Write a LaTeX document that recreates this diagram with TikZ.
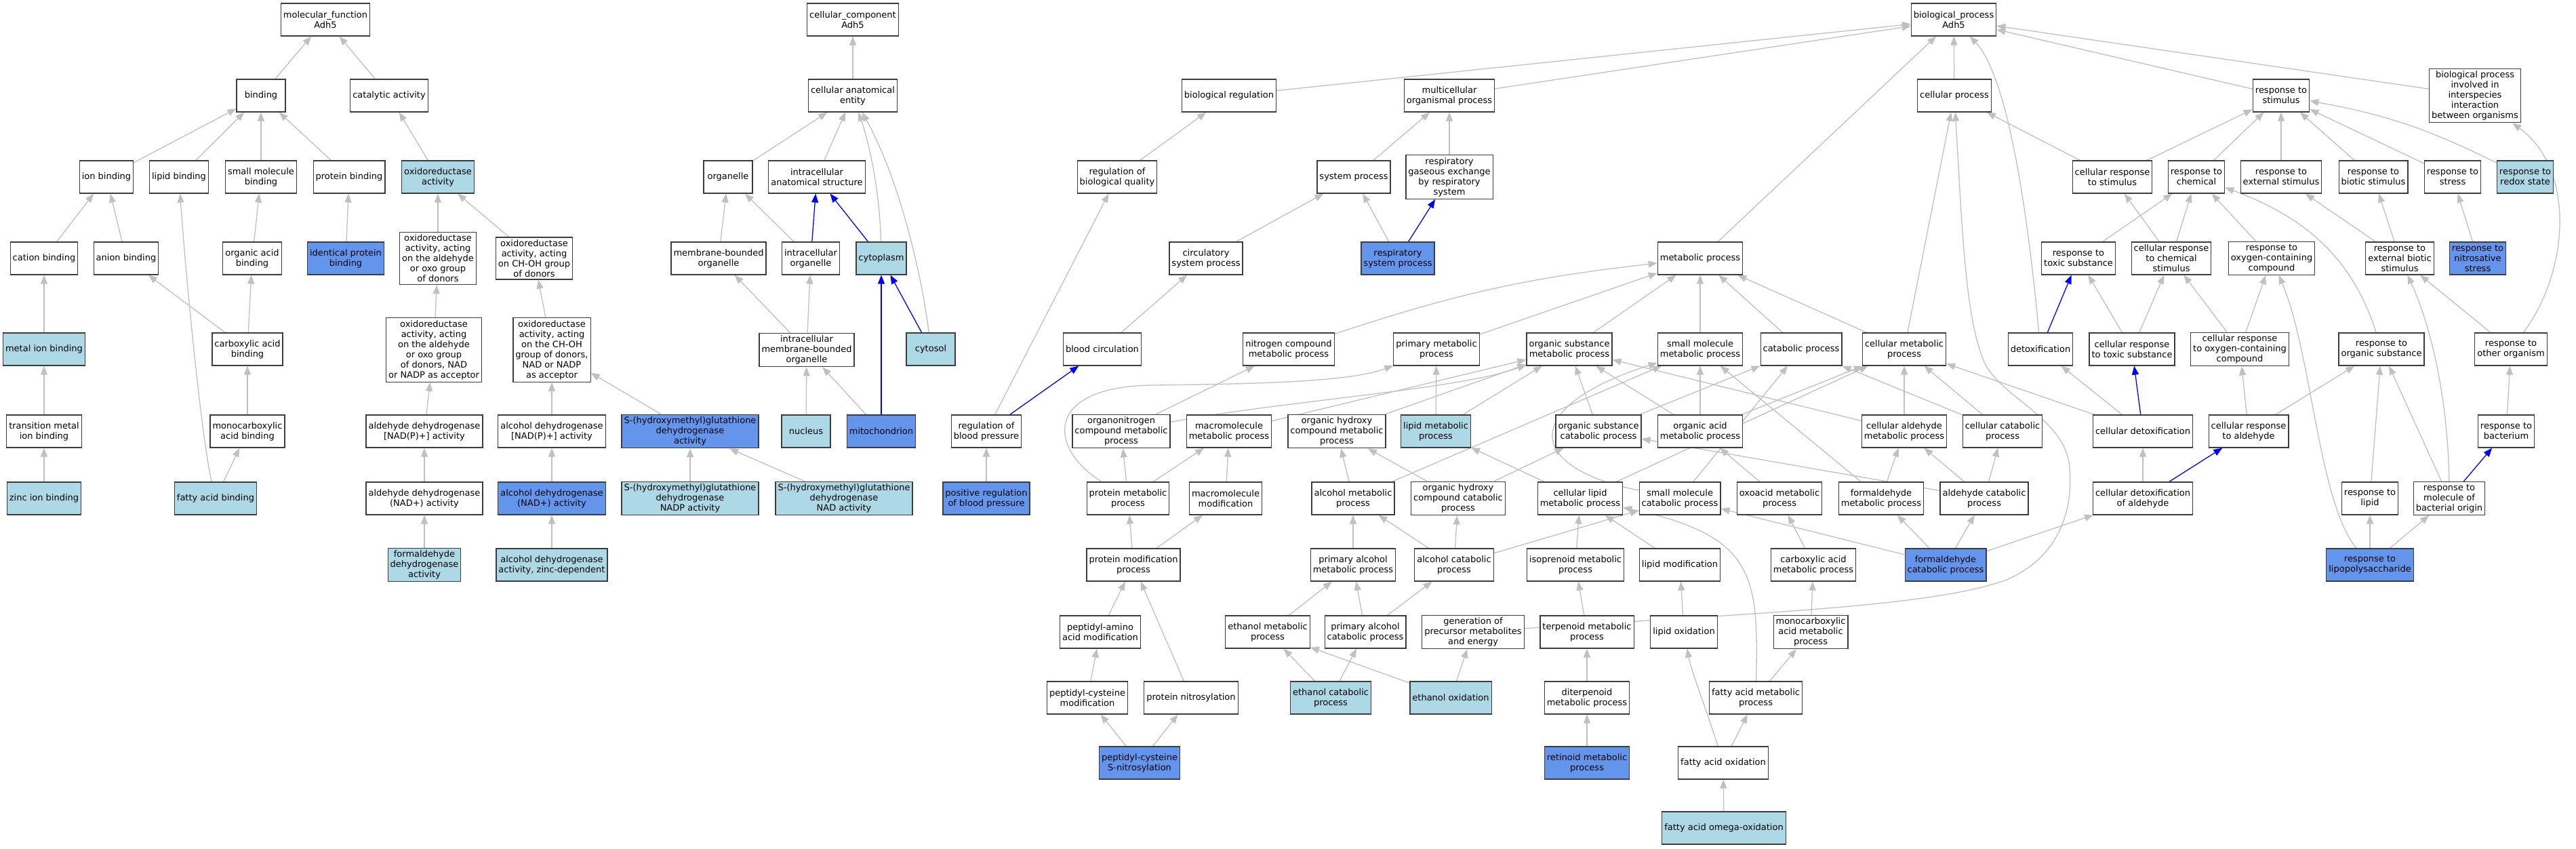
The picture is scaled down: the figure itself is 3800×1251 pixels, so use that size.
\documentclass[tikz,border=0pt]{standalone}
\usepackage{fontspec}
\setmainfont{DejaVu Sans}
\usetikzlibrary{arrows.meta}
\definecolor{edgegray}{RGB}{192,192,192}
\definecolor{boxline}{RGB}{60,60,60}
\definecolor{hitblue}{RGB}{173,216,230}
\definecolor{directblue}{RGB}{100,149,237}
\pgfdeclarelayer{background}
\pgfsetlayers{background,main}
\tikzset{
	term/.style={draw=boxline, line width=1.2pt, fill=white, align=center,
		minimum width=72pt, minimum height=48pt, inner xsep=3.5pt, inner ysep=3.5pt,
		font=\fontsize{13}{15}\selectfont},
	hit/.style={term, fill=hitblue},       % light blue terms
	direct/.style={term, fill=directblue}, % darker blue terms
	isa/.style={draw=edgegray, line width=1.3pt, -{Triangle[length=13pt,width=10pt]}},
	partof/.style={draw=blue, line width=1.3pt, -{Triangle[length=13pt,width=10pt]}},
}

\begin{document}
\begin{tikzpicture}[x=1pt, y=-1pt]
	\useasboundingbox (0,0) rectangle (3800,1251);

	% molecular function
	\node[term] (mf) at (480,29) {molecular\_function\\Adh5};
	\node[term] (binding) at (385,141) {binding};
	\node[term] (catalytic) at (574,141) {catalytic activity};
	\node[term] (ionbind) at (157,261) {ion binding};
	\node[term] (lipidbind) at (264,261) {lipid binding};
	\node[term] (smbind) at (385,261) {small molecule\\binding};
	\node[term] (protbind) at (515,261) {protein binding};
	\node[hit] (oxred) at (646,261) {oxidoreductase\\activity};
	\node[term] (cationbind) at (65,381) {cation binding};
	\node[term] (anionbind) at (186,381) {anion binding};
	\node[term] (orgacidbind) at (372,381) {organic acid\\binding};
	\node[direct] (identprot) at (510,381) {identical protein\\binding};
	\node[term] (oxald) at (646,381) {oxidoreductase\\activity, acting\\on the aldehyde\\or oxo group\\of donors};
	\node[term] (oxchoh) at (788,381) {oxidoreductase\\activity, acting\\on CH-OH group\\of donors};
	\node[hit] (metalbind) at (65,515) {metal ion binding};
	\node[term] (carbbind) at (365,515) {carboxylic acid\\binding};
	\node[term] (oxaldnad) at (640,516) {oxidoreductase\\activity, acting\\on the aldehyde\\or oxo group\\of donors, NAD\\or NADP as acceptor};
	\node[term] (oxchohnad) at (814,516) {oxidoreductase\\activity, acting\\on the CH-OH\\group of donors,\\NAD or NADP\\as acceptor};
	\node[term] (transbind) at (65,636) {transition metal\\ion binding};
	\node[term] (monocarbbind) at (365,636) {monocarboxylic\\acid binding};
	\node[term] (aldhnadp) at (626,636) {aldehyde dehydrogenase\\{[NAD(P)+]} activity};
	\node[term] (adhnadp) at (814,636) {alcohol dehydrogenase\\{[NAD(P)+]} activity};
	\node[direct] (hmgsh) at (1018,636) {S-(hydroxymethyl)glutathione\\dehydrogenase\\activity};
	\node[hit] (zincbind) at (65,735) {zinc ion binding};
	\node[hit] (fabind) at (318,735) {fatty acid binding};
	\node[term] (aldhnad) at (626,735) {aldehyde dehydrogenase\\(NAD+) activity};
	\node[direct] (adhnad) at (814,735) {alcohol dehydrogenase\\(NAD+) activity};
	\node[hit] (hmgshnadp) at (1018,735) {S-(hydroxymethyl)glutathione\\dehydrogenase\\NADP activity};
	\node[hit] (hmgshnad) at (1245,735) {S-(hydroxymethyl)glutathione\\dehydrogenase\\NAD activity};
	\node[hit] (fdhact) at (626,833) {formaldehyde\\dehydrogenase\\activity};
	\node[hit] (adhzinc) at (814,833) {alcohol dehydrogenase\\activity, zinc-dependent};

	% cellular component
	\node[term] (cc) at (1258,29) {cellular\_component\\Adh5};
	\node[term] (cae) at (1258,141) {cellular anatomical\\entity};
	\node[term] (organelle) at (1074,261) {organelle};
	\node[term] (ias) at (1205,261) {intracellular\\anatomical structure};
	\node[term] (mbo) at (1060,381) {membrane-bounded\\organelle};
	\node[term] (io) at (1196,381) {intracellular\\organelle};
	\node[hit] (cytoplasm) at (1300,381) {cytoplasm};
	\node[term] (imbo) at (1190,516) {intracellular\\membrane-bounded\\organelle};
	\node[hit] (cytosol) at (1373,515) {cytosol};
	\node[hit] (nucleus) at (1189,636) {nucleus};
	\node[direct] (mito) at (1300,636) {mitochondrion};

	% biological process
	\node[term] (bp) at (2882,29) {biological\_process\\Adh5};
	\node[term] (bioreg) at (1813,141) {biological regulation};
	\node[term] (multi) at (2138,141) {multicellular\\organismal process};
	\node[term] (cellproc) at (2883,141) {cellular process};
	\node[term] (stim) at (3365,141) {response to\\stimulus};
	\node[term] (inter) at (3651,141) {biological process\\involved in\\interspecies\\interaction\\between organisms};
	\node[term] (regqual) at (1648,261) {regulation of\\biological quality};
	\node[term] (sysproc) at (1997,261) {system process};
	\node[term] (gasex) at (2138,261) {respiratory\\gaseous exchange\\by respiratory\\system};
	\node[term] (crstim) at (3116,261) {cellular response\\to stimulus};
	\node[term] (rchem) at (3240,261) {response to\\chemical};
	\node[term] (rext) at (3365,261) {response to\\external stimulus};
	\node[term] (rbio) at (3501,261) {response to\\biotic stimulus};
	\node[term] (rstress) at (3618,261) {response to\\stress};
	\node[hit] (rredox) at (3725,261) {response to\\redox state};
	\node[term] (circ) at (1779,381) {circulatory\\system process};
	\node[direct] (respsys) at (2062,381) {respiratory\\system process};
	\node[term] (metab) at (2508,381) {metabolic process};
	\node[term] (rtox) at (3066,381) {response to\\toxic substance};
	\node[term] (crchem) at (3203,381) {cellular response\\to chemical\\stimulus};
	\node[term] (roxy) at (3351,381) {response to\\oxygen-containing\\compound};
	\node[term] (rextbio) at (3540,381) {response to\\external biotic\\stimulus};
	\node[direct] (rnitro) at (3655,381) {response to\\nitrosative\\stress};
	\node[term] (bloodcirc) at (1626,515) {blood circulation};
	\node[term] (nitro) at (1901,515) {nitrogen compound\\metabolic process};
	\node[term] (primmet) at (2119,515) {primary metabolic\\process};
	\node[term] (osmet) at (2315,515) {organic substance\\metabolic process};
	\node[term] (smmet) at (2508,515) {small molecule\\metabolic process};
	\node[term] (catab) at (2657,515) {catabolic process};
	\node[term] (cellmet) at (2809,515) {cellular metabolic\\process};
	\node[term] (detox) at (3010,515) {detoxification};
	\node[term] (crtox) at (3145,515) {cellular response\\to toxic substance};
	\node[term] (croxy) at (3304,515) {cellular response\\to oxygen-containing\\compound};
	\node[term] (rorg) at (3513,515) {response to\\organic substance};
	\node[term] (rother) at (3704,515) {response to\\other organism};
	\node[term] (regbp) at (1455,636) {regulation of\\blood pressure};
	\node[term] (orgnitro) at (1654,636) {organonitrogen\\compound metabolic\\process};
	\node[term] (macromet) at (1813,636) {macromolecule\\metabolic process};
	\node[term] (ohcmet) at (1972,636) {organic hydroxy\\compound metabolic\\process};
	\node[hit] (lipidmet) at (2118,636) {lipid metabolic\\process};
	\node[term] (oscat) at (2358,636) {organic substance\\catabolic process};
	\node[term] (oamet) at (2508,636) {organic acid\\metabolic process};
	\node[term] (caldmet) at (2809,636) {cellular aldehyde\\metabolic process};
	\node[term] (cellcat) at (2954,636) {cellular catabolic\\process};
	\node[term] (celldetox) at (3161,636) {cellular detoxification};
	\node[term] (cracald) at (3317,636) {cellular response\\to aldehyde};
	\node[term] (rbact) at (3697,636) {response to\\bacterium};
	\node[direct] (posregbp) at (1455,735) {positive regulation\\of blood pressure};
	\node[term] (protmet) at (1664,735) {protein metabolic\\process};
	\node[term] (macromod) at (1808,735) {macromolecule\\modification};
	\node[term] (alcmet) at (1996,735) {alcohol metabolic\\process};
	\node[term] (ohccat) at (2151,735) {organic hydroxy\\compound catabolic\\process};
	\node[term] (clipmet) at (2331,735) {cellular lipid\\metabolic process};
	\node[term] (smcat) at (2478,735) {small molecule\\catabolic process};
	\node[term] (oxoacid) at (2625,735) {oxoacid metabolic\\process};
	\node[term] (formmet) at (2775,735) {formaldehyde\\metabolic process};
	\node[term] (aldcat) at (2927,735) {aldehyde catabolic\\process};
	\node[term] (celldetoxald) at (3161,735) {cellular detoxification\\of aldehyde};
	\node[term] (rlipid) at (3496,735) {response to\\lipid};
	\node[term] (rmbo) at (3613,735) {response to\\molecule of\\bacterial origin};
	\node[term] (protmod) at (1672,833) {protein modification\\process};
	\node[term] (primalcmet) at (1996,833) {primary alcohol\\metabolic process};
	\node[term] (alccat) at (2145,833) {alcohol catabolic\\process};
	\node[term] (isoprenoid) at (2324,833) {isoprenoid metabolic\\process};
	\node[term] (lipidmod) at (2478,833) {lipid modification};
	\node[term] (carbmet) at (2675,833) {carboxylic acid\\metabolic process};
	\node[direct] (formcat) at (2870,833) {formaldehyde\\catabolic process};
	\node[direct] (rlps) at (3496,833) {response to\\lipopolysaccharide};
	\node[term] (peptaa) at (1623,932) {peptidyl-amino\\acid modification};
	\node[term] (ethmet) at (1870,932) {ethanol metabolic\\process};
	\node[term] (primalccat) at (2014,932) {primary alcohol\\catabolic process};
	\node[term] (genprec) at (2173,932) {generation of\\precursor metabolites\\and energy};
	\node[term] (terpenoid) at (2341,932) {terpenoid metabolic\\process};
	\node[term] (lipidox) at (2484,932) {lipid oxidation};
	\node[term] (monocarbmet) at (2671,932) {monocarboxylic\\acid metabolic\\process};
	\node[term] (peptcys) at (1604,1029) {peptidyl-cysteine\\modification};
	\node[term] (protnitro) at (1757,1029) {protein nitrosylation};
	\node[hit] (ethcat) at (1963,1029) {ethanol catabolic\\process};
	\node[hit] (ethox) at (2140,1029) {ethanol oxidation};
	\node[term] (diterp) at (2341,1029) {diterpenoid\\metabolic process};
	\node[term] (fametab) at (2590,1029) {fatty acid metabolic\\process};
	\node[direct] (snitro) at (1681,1125) {peptidyl-cysteine\\S-nitrosylation};
	\node[direct] (retinoid) at (2341,1125) {retinoid metabolic\\process};
	\node[term] (faox) at (2542,1125) {fatty acid oxidation};
	\node[hit] (faomega) at (2543,1221) {fatty acid omega-oxidation};

	\begin{pgfonlayer}{background}
	\draw	(binding) edge[isa] (mf)
			(catalytic) edge[isa] (mf)
			(ionbind) edge[isa] (binding)
			(lipidbind) edge[isa] (binding)
			(smbind) edge[isa] (binding)
			(protbind) edge[isa] (binding)
			(oxred) edge[isa] (catalytic)
			(cationbind) edge[isa] (ionbind)
			(anionbind) edge[isa] (ionbind)
			(orgacidbind) edge[isa] (smbind)
			(identprot) edge[isa] (protbind)
			(oxald) edge[isa] (oxred)
			(oxchoh) edge[isa] (oxred)
			(metalbind) edge[isa] (cationbind)
			(carbbind) edge[isa] (anionbind)
			(carbbind) edge[isa] (orgacidbind)
			(oxaldnad) edge[isa] (oxald)
			(oxchohnad) edge[isa] (oxchoh)
			(transbind) edge[isa] (metalbind)
			(monocarbbind) edge[isa] (carbbind)
			(aldhnadp) edge[isa] (oxaldnad)
			(adhnadp) edge[isa] (oxchohnad)
			(hmgsh) edge[isa] (oxchohnad)
			(zincbind) edge[isa] (transbind)
			(fabind) edge[isa] (monocarbbind)
			(aldhnad) edge[isa] (aldhnadp)
			(adhnad) edge[isa] (adhnadp)
			(hmgshnadp) edge[isa] (hmgsh)
			(hmgshnad) edge[isa] (hmgsh)
			(fdhact) edge[isa] (aldhnad)
			(adhzinc) edge[isa] (adhnad);
	\draw[isa] (fabind) .. controls (298,650) and (275,420) .. (lipidbind);

	\draw	(cae) edge[isa] (cc)
			(organelle) edge[isa] (cae)
			(ias) edge[isa] (cae)
			(mbo) edge[isa] (organelle)
			(io) edge[isa] (organelle)
			(io) edge[partof] (ias)
			(cytoplasm) edge[partof] (ias)
			(imbo) edge[isa] (mbo)
			(imbo) edge[isa] (io)
			(cytosol) edge[partof] (cytoplasm)
			(nucleus) edge[isa] (imbo)
			(mito) edge[isa] (imbo)
			(mito) edge[partof] (cytoplasm);
	\draw[isa] (cytoplasm) .. controls (1298,290) and (1285,220) .. (cae);
	\draw[isa] (cytosol) .. controls (1362,420) and (1330,270) .. (cae);

	\draw	(bioreg) edge[isa] (bp)
			(multi) edge[isa] (bp)
			(metab) edge[isa] (bp)
			(cellproc) edge[isa] (bp)
			(stim) edge[isa] (bp)
			(inter) edge[isa] (bp)
			(regqual) edge[isa] (bioreg)
			(sysproc) edge[isa] (multi)
			(gasex) edge[isa] (multi)
			(circ) edge[isa] (sysproc)
			(respsys) edge[isa] (sysproc)
			(respsys) edge[partof] (gasex)
			(bloodcirc) edge[isa] (circ)
			(regbp) edge[isa] (regqual)
			(regbp) edge[partof] (bloodcirc)
			(posregbp) edge[isa] (regbp);

	\draw	(crstim) edge[isa] (cellproc)
			(crstim) edge[isa] (stim)
			(rchem) edge[isa] (stim)
			(rext) edge[isa] (stim)
			(rbio) edge[isa] (stim)
			(rstress) edge[isa] (stim)
			(rredox) edge[isa, bend right=8] (stim)
			(rtox) edge[isa] (rchem)
			(crchem) edge[isa] (crstim)
			(crchem) edge[isa] (rchem)
			(roxy) edge[isa] (rchem)
			(rextbio) edge[isa] (rext)
			(rextbio) edge[isa] (rbio)
			(rnitro) edge[isa] (rstress)
			(crtox) edge[isa] (rtox)
			(crtox) edge[isa] (crchem)
			(croxy) edge[isa] (crchem)
			(croxy) edge[isa] (roxy)
			(detox) edge[partof] (rtox)
			(rother) edge[isa] (rextbio)
			(celldetox) edge[isa] (detox)
			(celldetox) edge[partof] (crtox)
			(celldetox) edge[isa] (cellmet)
			(cracald) edge[isa] (croxy)
			(cracald) edge[isa] (rorg)
			(rbact) edge[isa] (rother)
			(celldetoxald) edge[isa] (celldetox)
			(celldetoxald) edge[partof] (cracald)
			(rlipid) edge[isa] (rorg)
			(rmbo) edge[isa] (rorg)
			(rmbo) edge[partof] (rbact)
			(rlps) edge[isa] (rlipid)
			(rlps) edge[isa] (rmbo);
	\draw[isa] (detox) .. controls (2990,300) and (2960,110) .. (bp);
	\draw[isa] (rorg) .. controls (3470,380) and (3400,320) .. (rchem);
	\draw[isa] (rlps) .. controls (3420,740) and (3410,520) .. (roxy);
	\draw[isa] (rmbo) .. controls (3612,620) and (3595,500) .. (rextbio);
	\draw[isa] (rother) .. controls (3790,400) and (3800,250) .. (inter);

	\draw	(nitro) edge[isa, bend left=6] (metab)
			(primmet) edge[isa] (metab)
			(osmet) edge[isa] (metab)
			(smmet) edge[isa] (metab)
			(catab) edge[isa] (metab)
			(cellmet) edge[isa] (metab)
			(cellmet) edge[isa] (cellproc)
			(orgnitro) edge[isa] (nitro)
			(macromet) edge[isa] (osmet)
			(ohcmet) edge[isa] (osmet)
			(lipidmet) edge[isa] (osmet)
			(lipidmet) edge[isa] (primmet)
			(oscat) edge[isa] (osmet)
			(oscat) edge[isa] (catab)
			(oamet) edge[isa] (osmet)
			(oamet) edge[isa] (smmet)
			(oamet) edge[isa] (cellmet)
			(caldmet) edge[isa] (osmet)
			(caldmet) edge[isa] (cellmet)
			(cellcat) edge[isa] (catab)
			(cellcat) edge[isa] (cellmet)
			(protmet) edge[isa] (orgnitro)
			(protmet) edge[isa] (macromet)
			(macromod) edge[isa] (macromet)
			(alcmet) edge[isa] (ohcmet)
			(alcmet) edge[isa] (smmet)
			(ohccat) edge[isa] (ohcmet)
			(ohccat) edge[isa] (oscat)
			(clipmet) edge[isa] (lipidmet)
			(clipmet) edge[isa] (cellmet)
			(smcat) edge[isa] (catab)
			(oxoacid) edge[isa] (oamet)
			(formmet) edge[isa] (caldmet)
			(formmet) edge[isa] (smmet)
			(aldcat) edge[isa] (caldmet)
			(aldcat) edge[isa] (cellcat)
			(aldcat) edge[isa] (oscat)
			(protmod) edge[isa] (protmet)
			(protmod) edge[isa] (macromod)
			(primalcmet) edge[isa] (alcmet)
			(alccat) edge[isa] (alcmet)
			(alccat) edge[isa] (ohccat)
			(alccat) edge[isa] (smcat)
			(isoprenoid) edge[isa] (clipmet)
			(lipidmod) edge[isa] (clipmet)
			(carbmet) edge[isa] (oxoacid)
			(formcat) edge[isa] (formmet)
			(formcat) edge[isa] (aldcat)
			(formcat) edge[isa] (smcat)
			(formcat) edge[isa] (celldetoxald)
			(peptaa) edge[isa] (protmod)
			(ethmet) edge[isa] (primalcmet)
			(primalccat) edge[isa] (primalcmet)
			(primalccat) edge[isa] (alccat)
			(terpenoid) edge[isa] (isoprenoid)
			(lipidox) edge[isa] (lipidmod)
			(monocarbmet) edge[isa] (carbmet)
			(peptcys) edge[isa] (peptaa)
			(protnitro) edge[isa] (protmod)
			(ethcat) edge[isa] (ethmet)
			(ethcat) edge[isa] (primalccat)
			(ethox) edge[isa] (ethmet)
			(ethox) edge[isa] (genprec)
			(diterp) edge[isa] (terpenoid)
			(fametab) edge[isa] (monocarbmet)
			(snitro) edge[isa] (peptcys)
			(snitro) edge[isa] (protnitro)
			(retinoid) edge[isa] (diterp)
			(faox) edge[isa] (fametab)
			(faomega) edge[isa] (faox);
	\draw[isa] (protmet) .. controls (1545,660) and (1540,570) .. (1700,568)
		.. controls (1900,566) and (2000,560) .. (primmet);
	\draw[isa] (orgnitro) .. controls (1900,590) and (2150,575) .. (osmet);
	\draw[isa] (smcat) .. controls (2250,690) and (2240,600) .. (smmet);
	\draw[isa] (fametab) .. controls (2594,850) and (2590,790) .. (clipmet);
	\draw[isa] (faox) .. controls (2515,1040) and (2495,990) .. (lipidox);
	\draw[isa] (genprec) .. controls (2600,903) and (2850,895) .. (2960,855)
		.. controls (3040,820) and (3058,750) .. (3053,690)
		.. controls (3048,620) and (2960,590) .. (2930,540)
		.. controls (2900,480) and (2895,350) .. (cellproc);
	\end{pgfonlayer}
\end{tikzpicture}
\end{document}
